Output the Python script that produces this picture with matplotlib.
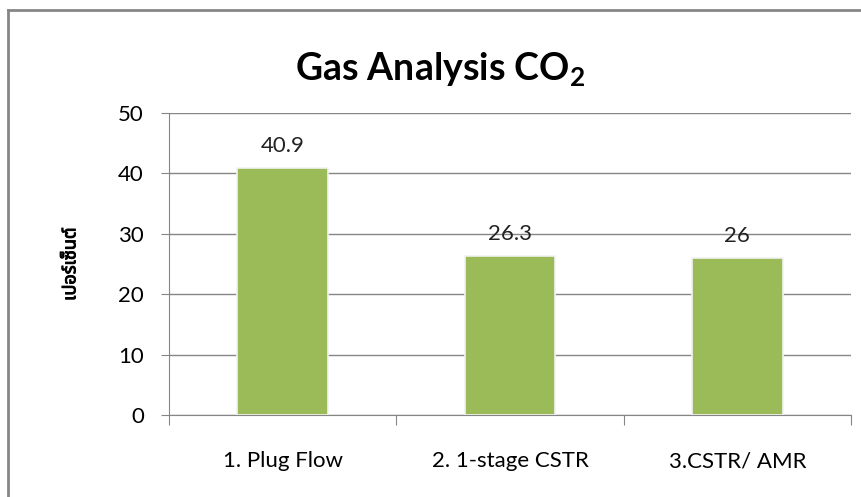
import matplotlib.pyplot as plt
import matplotlib.patheffects as pe
from matplotlib.lines import Line2D
import numpy as np

# data
categories = ["1. Plug Flow", "2. 1-stage CSTR", "3.CSTR/ AMR"]
values = [40.9, 26.3, 26]
value_labels = ["40.9", "26.3", "26"]
y_ticks = [0, 10, 20, 30, 40, 50]

BAR_C = "#9BBB59"
GRID_C = "#868686"
FONT = ["Lato", "DejaVu Sans"]

plt.rcParams["font.family"] = FONT

fig = plt.figure(figsize=(8.61, 4.97), dpi=100, facecolor="white")
ax = fig.add_axes([0.1963, 0.165, 0.7921, 0.6076])

x = np.arange(len(categories))
ax.bar(x, values, width=0.4, color=BAR_C, edgecolor="#f2f2f2", linewidth=1.2, zorder=3)

for xi, v, lab in zip(x, values, value_labels):
    ax.text(xi, v + 3.7, lab, ha="center", va="center", fontsize=16, color="#222222")

ax.set_xlim(-0.5, len(categories) - 0.5)
ax.set_ylim(0, 50)
ax.set_yticks(y_ticks)
ax.set_yticklabels([str(t) for t in y_ticks], fontsize=16)
ax.yaxis.grid(True, color=GRID_C, linewidth=1)
ax.set_axisbelow(True)

# category labels between boundary ticks
ax.set_xticks(np.arange(-0.5, len(categories), 1.0))
ax.set_xticklabels([])
ax.set_xticks(x, minor=True)
ax.set_xticklabels(categories, minor=True, fontsize=16)
ax.tick_params(axis="x", which="minor", length=0, pad=26)
ax.tick_params(axis="x", which="major", length=7, color=GRID_C, direction="out")
ax.tick_params(axis="y", length=6, color=GRID_C, direction="out", pad=12)

for s in ["top", "right"]:
    ax.spines[s].set_visible(False)
ax.spines["left"].set_color(GRID_C)
ax.spines["bottom"].set_color(GRID_C)

ylab = ax.set_ylabel("เปอร์เซ็นต์", family=["Noto Sans Thai", "Loma", "DejaVu Sans"],
                     fontsize=13, fontweight="bold", labelpad=28)
ylab.set_path_effects([pe.withStroke(linewidth=0.7, foreground="black")])

fig.text(0.511, 0.86, r"Gas Analysis CO$_\mathregular{2}$", ha="center", va="center",
         fontsize=27, fontweight="bold")

# outer chart frame (partially cropped)
fig.add_artist(Line2D([0.0093, 0.0093], [0, 0.98], transform=fig.transFigure, color=GRID_C, lw=2))
fig.add_artist(Line2D([0.0093, 1.0], [0.98, 0.98], transform=fig.transFigure, color=GRID_C, lw=2))

fig.savefig("out.png", dpi=100)
